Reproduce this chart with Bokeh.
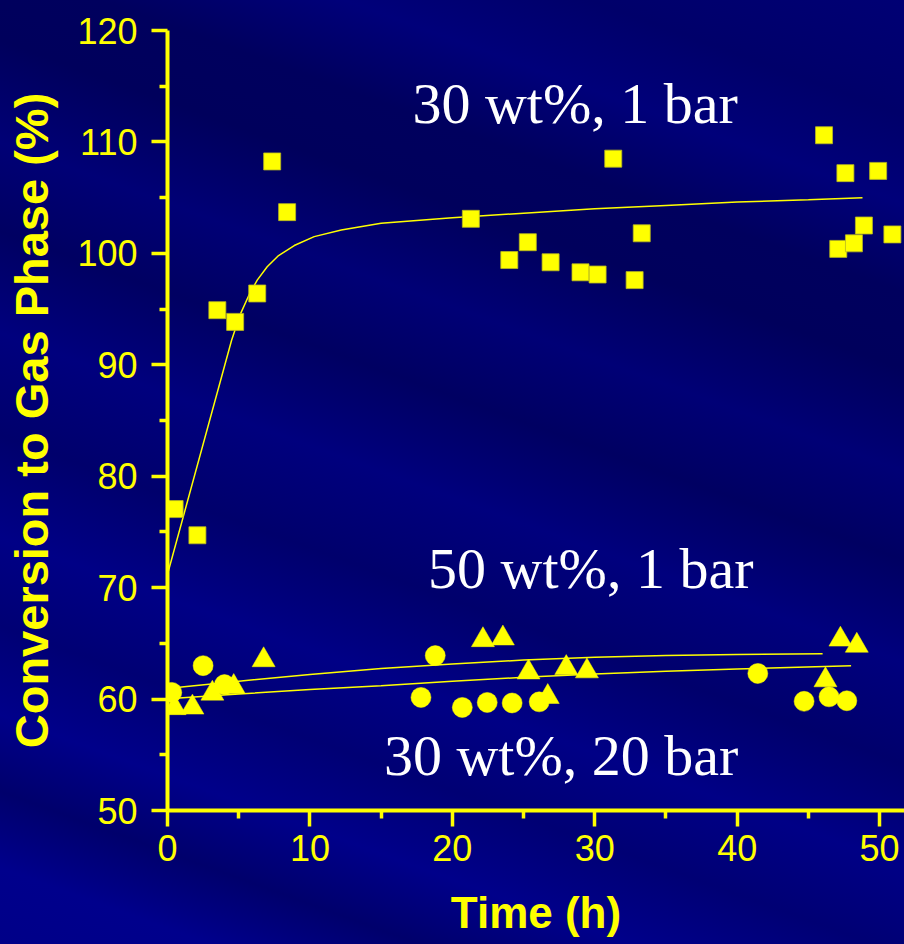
from bokeh.plotting import figure
from bokeh.models import FixedTicker, Range1d
from bokeh.core.properties import value
from bokeh.embed import file_html
from bokeh.resources import INLINE

# --- measured conversion (%) versus time (h) ---
# 30 wt%, 1 bar (squares)
t_30wt_1bar = [0.5, 2.1, 3.5, 4.75, 6.3, 7.35, 8.4, 21.3, 24.0, 25.3, 26.9, 29.0,
               30.2, 31.3, 32.8, 33.3, 46.1, 47.1, 47.6, 48.2, 48.9, 49.9, 50.9]
conv_30wt_1bar = [77.05, 74.7, 94.9, 93.85, 96.4, 108.25, 103.7, 103.1, 99.4, 101.0, 99.2, 98.3,
                  98.1, 108.5, 97.6, 101.8, 110.6, 100.4, 107.2, 100.9, 102.5, 107.4, 101.7]

# 50 wt%, 1 bar (triangles)
t_50wt_1bar = [0.5, 1.75, 3.15, 4.65, 6.75, 22.15, 23.55, 25.35, 26.7, 28.0, 29.45,
               46.2, 47.25, 48.4]
conv_50wt_1bar = [59.2, 59.25, 60.5, 61.1, 63.5, 65.3, 65.45, 62.4, 60.2, 62.8, 62.5,
                  61.7, 65.35, 64.8]

# 30 wt%, 20 bar (circles)
t_30wt_20bar = [0.3, 2.5, 4.0, 17.8, 18.8, 20.7, 22.45, 24.2, 26.1, 41.45, 44.7, 46.45, 47.7]
conv_30wt_20bar = [60.6, 63.0, 61.3, 60.15, 63.9, 59.25, 59.7, 59.65, 59.75, 62.3, 59.8, 60.2, 59.85]

# --- fitted trend curves ---
fit_t_30wt_1bar = [0, 4.5, 5.1, 5.7, 6.3, 7.0, 7.8, 8.9, 10.3, 12.2, 15, 20, 25, 30, 35, 40, 45, 48.8]
fit_c_30wt_1bar = [71.2, 92.2, 94.5, 96.2, 97.6, 98.8, 99.8, 100.7, 101.5, 102.1, 102.7, 103.2,
                   103.6, 104.0, 104.3, 104.6, 104.8, 105.0]

fit_t_upper = [0.3, 5, 10, 15, 20, 25, 30, 35, 40, 46]
fit_c_upper = [61.0, 61.6, 62.2, 62.75, 63.15, 63.5, 63.75, 63.9, 64.0, 64.06]

fit_t_lower = [0.3, 5, 10, 15, 20, 25, 30, 35, 40, 48]
fit_c_lower = [60.05, 60.45, 60.85, 61.2, 61.6, 61.95, 62.25, 62.5, 62.7, 62.99]

# --- axis ticks ---
x_major = [0, 10, 20, 30, 40, 50]
x_minor = [5, 15, 25, 35, 45]
y_major = [50, 60, 70, 80, 90, 100, 110, 120]
y_minor = [55, 65, 75, 85, 95, 105, 115]

# --- series captions ---
caption_text = ["30 wt%, 1 bar", "50 wt%, 1 bar", "30 wt%, 20 bar"]
caption_x = [17.2, 18.3, 15.2]
caption_y = [113.45, 71.72, 54.94]

YELLOW = "#FFFF00"

p = figure(width=904, height=944,
           x_range=Range1d(0, 51.75), y_range=Range1d(50, 120),
           output_backend="svg", toolbar_location=None,
           min_border_left=167, min_border_right=0,
           min_border_top=30, min_border_bottom=134)

# navy slide background with soft diagonal bands
p.styles = {
    "background": (
        "linear-gradient(200deg, #000074 0%, #00006a 9%, #00007a 16%, #00005e 23%, "
        "#00005c 29%, #000076 37%, #000062 44%, #00007e 52%, #00006c 60%, "
        "#000086 68%, #000074 75%, #00008a 82%, #00006c 88%, #00008c 94%, #000088 100%)"
    )
}
p.background_fill_alpha = 0
p.border_fill_alpha = 0
p.outline_line_color = None
p.grid.visible = False

for ax in (p.xaxis[0], p.yaxis[0]):
    ax.axis_line_color = YELLOW
    ax.axis_line_width = 4
    ax.major_tick_line_color = YELLOW
    ax.major_tick_line_width = 3.5
    ax.major_tick_in = 0
    ax.major_tick_out = 16
    ax.minor_tick_line_color = YELLOW
    ax.minor_tick_line_width = 3.5
    ax.minor_tick_in = 0
    ax.minor_tick_out = 8
    ax.major_label_text_color = YELLOW
    ax.major_label_text_font = "Liberation Sans"
    ax.major_label_text_font_size = "36px"
    ax.axis_label_text_color = YELLOW
    ax.axis_label_text_font = "Liberation Sans"
    ax.axis_label_text_font_style = "bold"

p.xaxis.ticker = FixedTicker(ticks=x_major, minor_ticks=x_minor)
p.yaxis.ticker = FixedTicker(ticks=y_major, minor_ticks=y_minor)

p.xaxis.axis_label = "Time (h)"
p.xaxis.axis_label_text_font_size = "44px"
p.xaxis.major_label_standoff = 8
p.xaxis.axis_label_standoff = 24

p.yaxis.axis_label = "Conversion to Gas Phase (%)"
p.yaxis.axis_label_text_font_size = "47px"
p.yaxis.major_label_standoff = 14
p.yaxis.axis_label_standoff = 16

# trend curves
p.line(fit_t_30wt_1bar, fit_c_30wt_1bar, line_color=YELLOW, line_width=1.5)
p.line(fit_t_upper, fit_c_upper, line_color=YELLOW, line_width=1.5)
p.line(fit_t_lower, fit_c_lower, line_color=YELLOW, line_width=1.5)

# measurements
p.scatter(t_30wt_1bar, conv_30wt_1bar, marker="square", size=17,
          fill_color=YELLOW, line_color="#b8b820", line_width=0.8)
p.scatter(t_50wt_1bar, conv_50wt_1bar, marker="triangle", size=23,
          fill_color=YELLOW, line_color=YELLOW, line_width=0.5)
p.scatter(t_30wt_20bar, conv_30wt_20bar, marker="circle", size=20,
          fill_color=YELLOW, line_color=YELLOW, line_width=0.5)

# series captions
p.text(x=caption_x, y=caption_y, text=caption_text,
       text_font=value("Liberation Serif"), text_font_size="58px",
       text_color="white", text_baseline="alphabetic", text_align="left")

open("out.html", "w").write(file_html(p, INLINE))
